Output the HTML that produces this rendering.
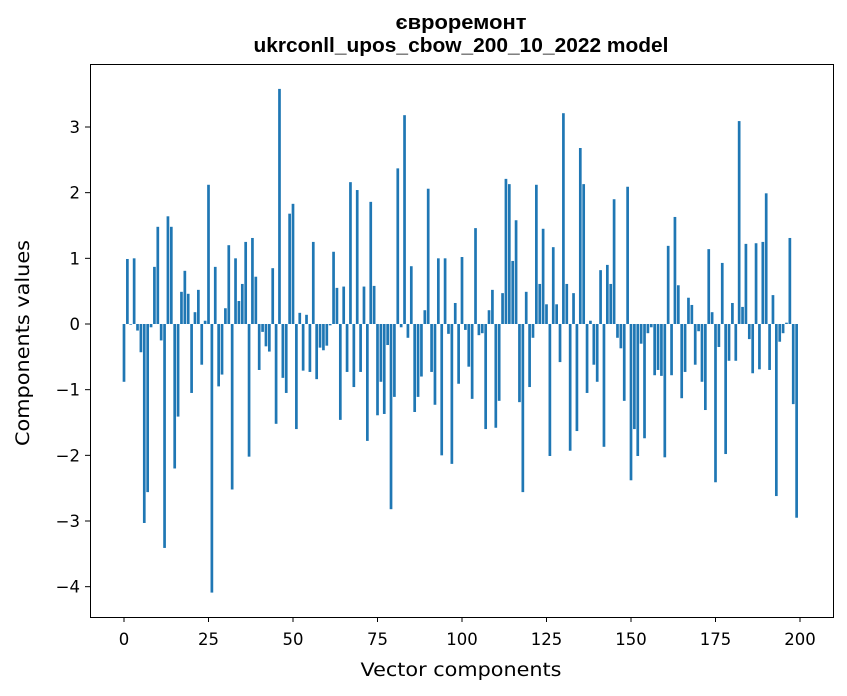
<!DOCTYPE html>
<html><head><meta charset="utf-8"><style>body{margin:0;background:#fff}svg{display:block}text{font-family:"DejaVu Sans","Liberation Sans",sans-serif}</style></head>
<body>
<svg id="s" width="847" height="696" xmlns="http://www.w3.org/2000/svg">
<rect width="847" height="696" fill="#fff"/>
<text x="461" y="29" font-size="20.5" font-weight="bold" text-anchor="middle" textLength="131" lengthAdjust="spacingAndGlyphs" style="font-family:'Liberation Sans',sans-serif">євроремонт</text>
<text x="461" y="52" font-size="20.5" font-weight="bold" text-anchor="middle" textLength="415" lengthAdjust="spacingAndGlyphs" style="font-family:'Liberation Sans',sans-serif">ukrconll_upos_cbow_200_10_2022 model</text>
<g id="bars" fill="#1f77b4"></g>
<rect x="90.5" y="64.5" width="743" height="553" fill="none" stroke="#000" stroke-width="1"/>
<g id="ticks" font-size="16.5"></g>
<text x="461" y="676" font-size="18.5" text-anchor="middle" textLength="201" lengthAdjust="spacingAndGlyphs">Vector components</text>
<text transform="translate(29,343) rotate(-90)" font-size="18.5" text-anchor="middle" textLength="206" lengthAdjust="spacingAndGlyphs">Components values</text>
</svg>
<script>
var v=[-0.88,0.99,-0.01,1.0,-0.1,-0.43,-3.03,-2.56,-0.05,0.87,1.48,-0.25,-3.41,1.64,1.48,-2.2,-1.41,0.49,0.81,0.46,-1.05,0.18,0.52,-0.62,0.05,2.12,-4.09,0.87,-0.95,-0.77,0.24,1.2,-2.52,1.0,0.35,0.61,1.25,-2.02,1.31,0.72,-0.7,-0.12,-0.34,-0.42,0.85,-1.52,3.58,-0.82,-1.05,1.68,
1.83,-1.6,0.17,-0.71,0.14,-0.73,1.25,-0.84,-0.36,-0.4,-0.33,-0.02,1.1,0.55,-1.46,0.57,-0.73,2.16,-0.96,2.04,-0.73,0.57,-1.78,1.86,0.58,-1.39,-0.88,-1.37,-0.32,-2.82,-1.11,2.37,-0.05,3.18,-0.21,0.88,-1.34,-1.11,-0.8,0.21,2.06,-0.73,-1.23,1.0,-2.0,1.0,-0.15,-2.13,0.32,-0.91,
1.02,-0.09,-0.65,-1.14,1.46,-0.17,-0.14,-1.6,0.21,0.52,-1.58,-1.17,0.47,2.21,2.13,0.96,1.58,-1.19,-2.56,0.49,-0.96,-0.21,2.12,0.61,1.45,0.3,-2.01,1.17,0.3,-0.58,3.21,0.61,-1.93,0.47,-1.63,2.68,2.13,-1.05,0.05,-0.62,-0.88,0.82,-1.87,0.9,0.61,1.9,-0.21,-0.37,-1.17,2.09,
-2.38,-1.6,-2.01,-0.3,-1.74,-0.14,-0.05,-0.78,-0.7,-0.79,-2.03,1.19,-0.78,1.63,0.59,-1.13,-0.73,0.4,0.29,-0.62,-0.11,-0.88,-1.31,1.14,0.18,-2.41,-0.35,0.93,-1.98,-0.56,0.32,-0.56,3.09,0.26,1.22,-0.23,-0.75,1.23,-0.69,1.25,1.99,-0.7,0.44,-2.62,-0.27,-0.14,0.02,1.31,-1.22,-2.95];
var ns="http://www.w3.org/2000/svg",b=document.getElementById("bars"),t=document.getElementById("ticks");
function X(i){return 124+3.38*i}function Y(y){return 324-65.67*y}
v.forEach(function(y,i){var r=document.createElementNS(ns,"rect");var y0=Y(0),y1=Y(y);r.setAttribute("x",X(i)-1.35);r.setAttribute("width",2.7);r.setAttribute("y",Math.min(y0,y1));r.setAttribute("height",Math.abs(y1-y0));b.appendChild(r);});
function el(n,a,txt){var e=document.createElementNS(ns,n);for(var k in a)e.setAttribute(k,a[k]);if(txt!=null)e.textContent=txt;t.appendChild(e);}
for(var k=0;k<=200;k+=25){var x=X(k);el("line",{x1:x,x2:x,y1:617,y2:622,stroke:"#000"});el("text",{x:x,y:645,"text-anchor":"middle"},String(k));}
for(var k=-4;k<=3;k++){var y=Y(k);el("line",{x1:85,x2:90,y1:y,y2:y,stroke:"#000"});el("text",{x:80,y:y+6,"text-anchor":"end"},k<0?"\u2212"+(-k):String(k));}
</script>
</body></html>
